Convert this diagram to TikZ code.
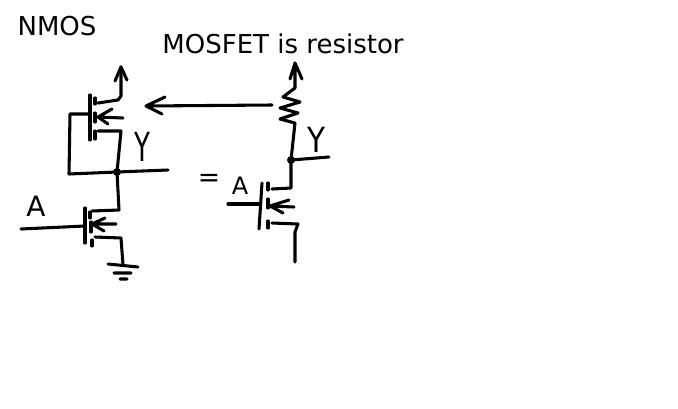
\documentclass[tikz,border=0pt]{standalone}
\usepackage{fontspec}
\setmainfont{DejaVu Sans}
\begin{document}
\begin{tikzpicture}[x=0.75pt,y=-0.75pt,
  ink/.style={line width=2.3pt,line cap=round,line join=round,black},
  lab/.style={inner sep=0pt,text=black},
  title/.style={inner sep=0pt,text=black,font=\fontsize{19.5}{22}\selectfont}]
\useasboundingbox (0,0) rectangle (678,408);
% named junctions
\coordinate (j1) at (117,172);
\coordinate (j2) at (291,160);
\coordinate (upTip) at (121,67);
\coordinate (resTip) at (295,63);
\coordinate (resTop) at (295,88);
\coordinate (resBot) at (295,123);
% labels
\node[title] (nmos) at (57,26) {NMOS};
\node[title] (mosres) at (283,44) {MOSFET is resistor};
\node[lab,font=\fontsize{30}{32}\selectfont] (ya) at (142,147) {\scalebox{0.65}[1]{Y}};
\node[lab,font=\fontsize{26}{28}\selectfont] (yb) at (316,140) {\scalebox{0.85}[1]{Y}};
\node[lab,font=\fontsize{21}{24}\selectfont] (aa) at (36,206) {A};
\node[lab,font=\fontsize{18}{20}\selectfont] (ab) at (240,186) {A};
\node[lab,font=\fontsize{20}{22}\selectfont] (eq) at (209,180) {=};
% top transistor
\draw[ink] (90,95) -- (90,140);
\draw[ink] (95,98) -- (95,104) (95,113) -- (95,122) (95,131) -- (95,139);
\draw[ink] (98,103) -- (118,100) -- (121,96) -- (upTip);
\draw[ink] (115,81) -- (upTip) -- (127,80);
\draw[ink] (123,118) -- (98,117) (112,109) -- (98,117) -- (108,124);
\draw[ink] (98,131) -- (121,131) -- (j1);
\draw[ink] (90,114) -- (70,114) -- (69,174) -- (j1);
\draw[ink] (j1) -- (168,170);
\fill (j1) circle (4);
% bottom transistor
\draw[ink] (j1) -- (119,210) -- (92,211);
\draw[ink] (85,208) -- (85,243);
\draw[ink] (21,229) -- (85,226);
\draw[ink] (90,212) -- (90,218) (91,222) -- (91,232) (92,240) -- (92,246);
\draw[ink] (116,224) -- (92,224) (105,218) -- (92,224) -- (104,231);
\draw[ink] (95,237) -- (121,238) -- (123,265);
\draw[ink] (108,264) -- (138,267) (114,273) -- (131,273) (120,279) -- (127,279);
% pointer
\draw[ink] (272,105) -- (146,106) (165,97) -- (146,106) -- (162,114);
% resistor branch
\draw[ink] (resTop) -- (resTip) (290,79) -- (resTip) -- (302,79);
\draw[ink] (resTop) -- (283,97) -- (300,102) -- (280,108) -- (298,113) -- (280,119) -- (resBot) -- (j2);
\draw[ink] (j2) -- (291,188) -- (272,189);
\draw[ink] (j2) -- (329,157);
\fill (j2) circle (4);
% right transistor
\draw[ink] (262,183) -- (259,229);
\draw[ink] (228,204) -- (260,204);
\draw[ink] (268,183) -- (268,190) (268,199) -- (268,208) (268,221) -- (268,228);
\draw[ink] (294,207) -- (270,206) (289,200) -- (270,206) -- (283,213);
\draw[ink] (272,223) -- (298,224) -- (295,232) -- (295,262);
\end{tikzpicture}
\end{document}
